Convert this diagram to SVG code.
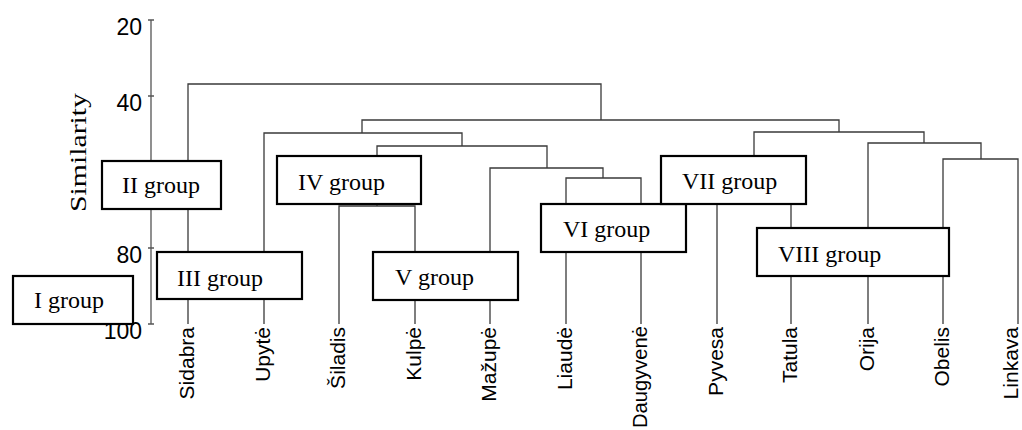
<svg xmlns="http://www.w3.org/2000/svg" width="1022" height="430" viewBox="0 0 1022 430">
<style>
.ax{stroke:#555;stroke-width:1.3;fill:none}
.cn{stroke:#3a3a3a;stroke-width:1.3;fill:none}
.box{fill:#fff;stroke:#000;stroke-width:2.2}
.gt{font-family:"Liberation Serif","Times New Roman",serif;font-size:24px;fill:#000}
.tk{font-family:"Liberation Sans",Arial,sans-serif;font-size:23px;fill:#000;text-anchor:end}
.lf{font-family:"Liberation Sans",Arial,sans-serif;font-size:21px;fill:#000;text-anchor:end}
</style>
<rect width="1022" height="430" fill="#fff"/>
<g id="axis">
<path class="ax" d="M151,20 V324 M148,20 H154 M148,96 H154 M148,172 H154 M148,248 H154 M148,324 H154"/>
<text class="tk" x="142" y="34.5">20</text>
<text class="tk" x="142" y="110.5">40</text>
<text class="tk" x="142" y="262.5">80</text>
<text class="tk" x="142" y="338.5">100</text>
<text class="gt" transform="translate(86,152.5) rotate(-90)" text-anchor="middle" textLength="119" lengthAdjust="spacingAndGlyphs">Similarity</text>
</g>
<g id="connectors">
<path class="cn" d="M188,324 V84 H601 V120"/>
<path class="cn" d="M362,133 V120 H839 V132"/>
<path class="cn" d="M264,324 V133 H462 V146"/>
<path class="cn" d="M377,206 V146 H547 V168"/>
<path class="cn" d="M339,324 V206 H415 V324"/>
<path class="cn" d="M490,324 V168 H603 V178"/>
<path class="cn" d="M566,324 V178 H641 V324"/>
<path class="cn" d="M754,204 V132 H924 V143"/>
<path class="cn" d="M717,324 V204 H791 V324"/>
<path class="cn" d="M868,324 V143 H981 V159"/>
<path class="cn" d="M943,324 V159 H1018 V324"/>
</g>
<g id="group-I"><rect class="box" x="13" y="276" width="120" height="48"/><text class="gt" x="34" y="308">I group</text></g>
<g id="group-II"><rect class="box" x="102" y="161" width="119" height="48"/><text class="gt" x="122" y="193">II group</text></g>
<g id="group-III"><rect class="box" x="157" y="252" width="145" height="47"/><text class="gt" x="177" y="286">III group</text></g>
<g id="group-IV"><rect class="box" x="277" y="156" width="144" height="48"/><text class="gt" x="298" y="190">IV group</text></g>
<g id="group-V"><rect class="box" x="373" y="252" width="145" height="48"/><text class="gt" x="395" y="285">V group</text></g>
<g id="group-VI"><rect class="box" x="541" y="204" width="145" height="48"/><text class="gt" x="563" y="237">VI group</text></g>
<g id="group-VII"><rect class="box" x="661" y="156" width="145" height="48"/><text class="gt" x="682" y="189">VII group</text></g>
<g id="group-VIII"><rect class="box" x="757" y="228" width="192" height="48"/><text class="gt" x="778" y="262">VIII group</text></g>
<g id="leaves">
<text class="lf" transform="translate(194,327) rotate(-90)">Sidabra</text>
<text class="lf" transform="translate(270,327) rotate(-90)">Upytė</text>
<text class="lf" transform="translate(345,327) rotate(-90)">Šiladis</text>
<text class="lf" transform="translate(421,327) rotate(-90)">Kulpė</text>
<text class="lf" transform="translate(496,327) rotate(-90)">Mažupė</text>
<text class="lf" transform="translate(572,327) rotate(-90)">Liaudė</text>
<text class="lf" transform="translate(647,326) rotate(-90)" textLength="102" lengthAdjust="spacingAndGlyphs">Daugyvenė</text>
<text class="lf" transform="translate(723,327) rotate(-90)">Pyvesa</text>
<text class="lf" transform="translate(797,327) rotate(-90)">Tatula</text>
<text class="lf" transform="translate(874,327) rotate(-90)">Orija</text>
<text class="lf" transform="translate(949,327) rotate(-90)">Obelis</text>
<text class="lf" transform="translate(1018,327) rotate(-90)">Linkava</text>
</g>
</svg>
